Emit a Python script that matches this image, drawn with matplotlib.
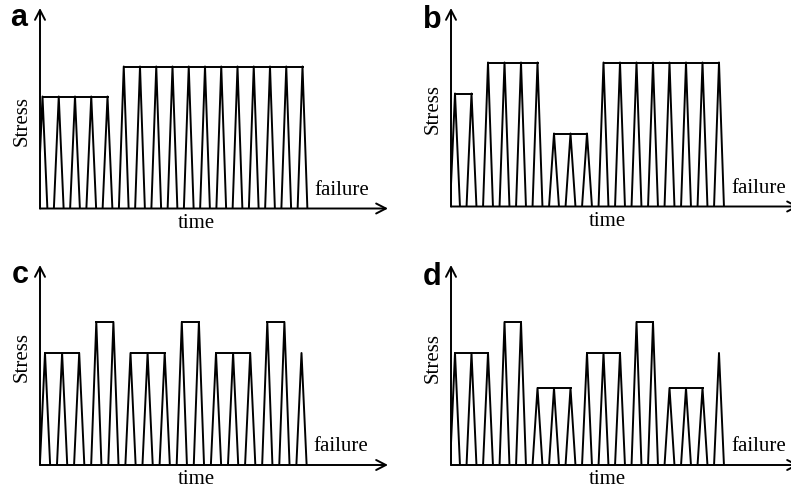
import matplotlib.pyplot as plt

W, H = 791, 489

# stress level of each loading block (0..10 scale) and number of cycles in it
a_levels = [5.6, 7.1]
a_cycles = [5, 12]
b_levels = [5.65, 7.2, 3.65, 7.2]
b_cycles = [2, 4, 3, 8]
c_levels = [5.6, 7.15, 5.6, 7.15, 5.6, 7.15, 5.6]
c_cycles = [3, 2, 3, 2, 3, 2, 1]
d_levels = [5.6, 7.15, 3.85, 5.6, 7.15, 3.85, 5.6]
d_cycles = [3, 2, 3, 3, 2, 3, 1]

panel_names = ['a', 'b', 'c', 'd']

# layout in pixels: axis left, baseline, arrow top, first apex offset, cycle width,
# Stress label centre y, panel letter position
layout = {
    'a': dict(x0=40, y0=209.5, top=9, off=2.5, per=16.25, sy=121, lab=(10, 26)),
    'b': dict(x0=451, y0=207.5, top=9, off=4, per=16.5, sy=109, lab=(423, 28)),
    'c': dict(x0=40, y0=466, top=266, off=5, per=17.1, sy=357, lab=(12, 283)),
    'd': dict(x0=451, y0=466, top=266, off=4, per=16.5, sy=358, lab=(423, 285)),
}
data = {'a': (a_levels, a_cycles), 'b': (b_levels, b_cycles),
        'c': (c_levels, c_cycles), 'd': (d_levels, d_cycles)}

AX_W = 348      # axis length in px, up to arrow tip
HALF = 0.3      # half base width of one load cycle, in cycles
LW = 1.4
serif = 'Liberation Serif'

fig = plt.figure(figsize=(W / 100, H / 100), dpi=100)

for name in panel_names:
    L = layout[name]
    levels, cycles = data[name]
    ax_h = L['y0'] - L['top']
    ax = fig.add_axes([L['x0'] / W, 1 - L['y0'] / H, AX_W / W, ax_h / H])
    ax.set_xlim(-L['off'] / L['per'], (AX_W - L['off']) / L['per'])
    ax.set_ylim(0, ax_h / 20.0)
    ax.axis('off')

    k = 0
    for lev, n in zip(levels, cycles):
        for j in range(k, k + n):
            ax.plot([j - HALF, j, j + HALF], [0, lev, 0], color='k', lw=LW)
        ax.plot([k, k + n - 1], [lev, lev], color='k', lw=LW)
        k += n
    last = k - 1

    arrow = dict(arrowstyle='->,head_length=0.35,head_width=0.18', lw=LW,
                 color='k', shrinkA=0, shrinkB=0, mutation_scale=20)
    ax.annotate('', xy=(1, 0), xytext=(0, 0), xycoords='axes fraction',
                arrowprops=arrow, annotation_clip=False)
    ax.annotate('', xy=(0, 1), xytext=(0, 0), xycoords='axes fraction',
                arrowprops=arrow, annotation_clip=False)

    ax.annotate('failure', xy=(last, 0), xytext=(12, 19), textcoords='offset pixels',
                ha='left', va='center', fontsize=15, family=serif,
                annotation_clip=False)

    fig.text((L['x0'] - 18) / W, 1 - L['sy'] / H, 'Stress', rotation=90,
             ha='center', va='center', fontsize=15, family=serif)
    fig.text((L['x0'] + 156) / W, 1 - (L['y0'] + 14) / H, 'time',
             ha='center', va='center', fontsize=15, family=serif)
    fig.text(L['lab'][0] / W, 1 - L['lab'][1] / H, name, ha='left', va='baseline',
             fontsize=22, fontweight='bold', family='Liberation Sans')

fig.savefig('out.png', dpi=100)
